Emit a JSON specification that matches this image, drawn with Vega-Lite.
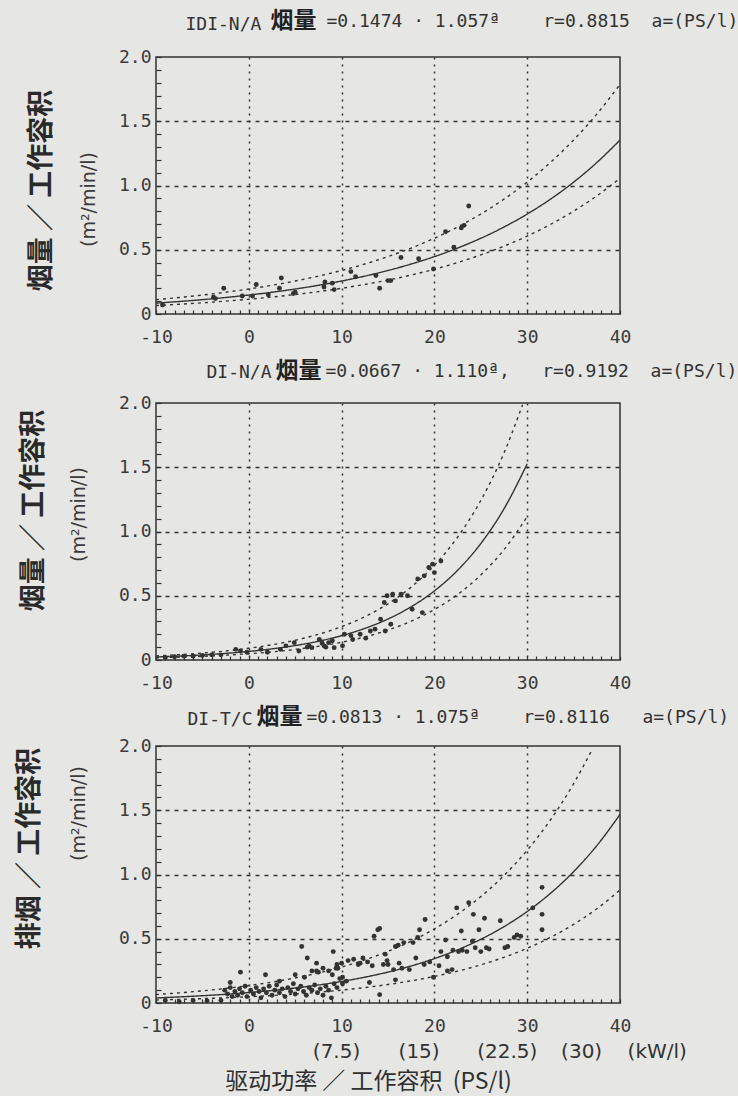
{
  "$schema": "https://vega.github.io/schema/vega-lite/v6.json",
  "background": "#e6e6e4",
  "padding": {"left": 14, "top": 8, "right": 0, "bottom": 2},
  "spacing": 11,
  "config": {
    "view": {"stroke": "#333333", "strokeWidth": 1.5},
    "font": "DejaVu Sans Mono",
    "axis": {"labelFont": "DejaVu Sans Mono", "labelFontSize": 18, "labelColor": "#3a3a3a", "tickColor": "#333333", "domain": false, "labelFlush": false, "labelOverlap": false}
  },
  "datasets": {
    "p1": [
      {"a": -9.3, "v": 0.07}, {"a": -3.8, "v": 0.13}, {"a": -3.6, "v": 0.12}, {"a": -2.7, "v": 0.2}, {"a": -0.7, "v": 0.14},
      {"a": 0.4, "v": 0.14}, {"a": 0.8, "v": 0.23}, {"a": 2.1, "v": 0.15}, {"a": 3.3, "v": 0.2}, {"a": 3.5, "v": 0.28},
      {"a": 4.8, "v": 0.16}, {"a": 5.0, "v": 0.17}, {"a": 8.1, "v": 0.21}, {"a": 8.2, "v": 0.25}, {"a": 9.0, "v": 0.24},
      {"a": 9.2, "v": 0.19}, {"a": 11.0, "v": 0.33}, {"a": 11.5, "v": 0.29}, {"a": 13.7, "v": 0.3}, {"a": 14.1, "v": 0.2},
      {"a": 15.0, "v": 0.26}, {"a": 15.3, "v": 0.26}, {"a": 16.4, "v": 0.44}, {"a": 18.3, "v": 0.43}, {"a": 19.9, "v": 0.35},
      {"a": 21.2, "v": 0.64}, {"a": 22.1, "v": 0.52}, {"a": 22.9, "v": 0.67}, {"a": 23.2, "v": 0.69}, {"a": 23.7, "v": 0.84}
    ],
    "c1": [
      {"a": -10, "v": 0.0847, "k": "fit"}, {"a": -7.5, "v": 0.0973, "k": "fit"}, {"a": -5, "v": 0.1117, "k": "fit"}, {"a": -2.5, "v": 0.1283, "k": "fit"},
      {"a": 0, "v": 0.1474, "k": "fit"}, {"a": 2.5, "v": 0.1693, "k": "fit"}, {"a": 5, "v": 0.1945, "k": "fit"}, {"a": 7.5, "v": 0.2234, "k": "fit"},
      {"a": 10, "v": 0.2566, "k": "fit"}, {"a": 12.5, "v": 0.2947, "k": "fit"}, {"a": 15, "v": 0.3386, "k": "fit"}, {"a": 17.5, "v": 0.3889, "k": "fit"},
      {"a": 20, "v": 0.4467, "k": "fit"}, {"a": 22.5, "v": 0.5131, "k": "fit"}, {"a": 25, "v": 0.5894, "k": "fit"}, {"a": 27.5, "v": 0.677, "k": "fit"},
      {"a": 30, "v": 0.7776, "k": "fit"}, {"a": 32.5, "v": 0.8932, "k": "fit"}, {"a": 35, "v": 1.0259, "k": "fit"}, {"a": 37.5, "v": 1.1785, "k": "fit"},
      {"a": 40, "v": 1.3536, "k": "fit"},
      {"a": -10, "v": 0.1118, "k": "upper"}, {"a": -7.5, "v": 0.1284, "k": "upper"}, {"a": -5, "v": 0.1474, "k": "upper"}, {"a": -2.5, "v": 0.1694, "k": "upper"},
      {"a": 0, "v": 0.1946, "k": "upper"}, {"a": 2.5, "v": 0.2235, "k": "upper"}, {"a": 5, "v": 0.2567, "k": "upper"}, {"a": 7.5, "v": 0.2949, "k": "upper"},
      {"a": 10, "v": 0.3387, "k": "upper"}, {"a": 12.5, "v": 0.389, "k": "upper"}, {"a": 15, "v": 0.447, "k": "upper"}, {"a": 17.5, "v": 0.5133, "k": "upper"},
      {"a": 20, "v": 0.5896, "k": "upper"}, {"a": 22.5, "v": 0.6773, "k": "upper"}, {"a": 25, "v": 0.778, "k": "upper"}, {"a": 27.5, "v": 0.8936, "k": "upper"},
      {"a": 30, "v": 1.0264, "k": "upper"}, {"a": 32.5, "v": 1.179, "k": "upper"}, {"a": 35, "v": 1.3542, "k": "upper"}, {"a": 37.5, "v": 1.5556, "k": "upper"},
      {"a": 40, "v": 1.7868, "k": "upper"},
      {"a": -10, "v": 0.0661, "k": "lower"}, {"a": -7.5, "v": 0.0759, "k": "lower"}, {"a": -5, "v": 0.0871, "k": "lower"}, {"a": -2.5, "v": 0.1001, "k": "lower"},
      {"a": 0, "v": 0.115, "k": "lower"}, {"a": 2.5, "v": 0.1321, "k": "lower"}, {"a": 5, "v": 0.1517, "k": "lower"}, {"a": 7.5, "v": 0.1743, "k": "lower"},
      {"a": 10, "v": 0.2001, "k": "lower"}, {"a": 12.5, "v": 0.2299, "k": "lower"}, {"a": 15, "v": 0.2641, "k": "lower"}, {"a": 17.5, "v": 0.3033, "k": "lower"},
      {"a": 20, "v": 0.3484, "k": "lower"}, {"a": 22.5, "v": 0.4002, "k": "lower"}, {"a": 25, "v": 0.4597, "k": "lower"}, {"a": 27.5, "v": 0.5281, "k": "lower"},
      {"a": 30, "v": 0.6065, "k": "lower"}, {"a": 32.5, "v": 0.6967, "k": "lower"}, {"a": 35, "v": 0.8002, "k": "lower"}, {"a": 37.5, "v": 0.9192, "k": "lower"},
      {"a": 40, "v": 1.0558, "k": "lower"}
    ],
    "p2": [
      {"a": -9, "v": 0.02}, {"a": -8, "v": 0.025}, {"a": -7, "v": 0.03}, {"a": -6, "v": 0.03}, {"a": -5, "v": 0.035}, {"a": -4, "v": 0.04}, {"a": -3, "v": 0.04},
      {"a": -1.4, "v": 0.083}, {"a": -0.9, "v": 0.07}, {"a": -0.2, "v": 0.06}, {"a": 1.3, "v": 0.083}, {"a": 2.0, "v": 0.06}, {"a": 3.4, "v": 0.083},
      {"a": 4.0, "v": 0.11}, {"a": 4.9, "v": 0.135}, {"a": 5.4, "v": 0.07}, {"a": 6.3, "v": 0.1}, {"a": 6.5, "v": 0.11}, {"a": 6.8, "v": 0.096},
      {"a": 7.6, "v": 0.16}, {"a": 7.9, "v": 0.13}, {"a": 8.1, "v": 0.11}, {"a": 8.3, "v": 0.1}, {"a": 8.6, "v": 0.135}, {"a": 9.0, "v": 0.15},
      {"a": 9.2, "v": 0.096}, {"a": 10.1, "v": 0.11}, {"a": 10.3, "v": 0.2}, {"a": 11.0, "v": 0.19}, {"a": 11.2, "v": 0.16}, {"a": 12.0, "v": 0.2},
      {"a": 12.6, "v": 0.17}, {"a": 13.1, "v": 0.226}, {"a": 13.6, "v": 0.24}, {"a": 14.2, "v": 0.317}, {"a": 14.7, "v": 0.226}, {"a": 15.3, "v": 0.278},
      {"a": 14.6, "v": 0.447}, {"a": 14.9, "v": 0.5}, {"a": 15.5, "v": 0.512}, {"a": 15.8, "v": 0.46}, {"a": 16.4, "v": 0.512}, {"a": 17.1, "v": 0.5},
      {"a": 17.6, "v": 0.395}, {"a": 18.7, "v": 0.369}, {"a": 18.2, "v": 0.63}, {"a": 18.9, "v": 0.655}, {"a": 19.4, "v": 0.72}, {"a": 20.0, "v": 0.68},
      {"a": 19.8, "v": 0.746}, {"a": 20.7, "v": 0.77}
    ],
    "c2": [
      {"a": -10, "v": 0.0235, "k": "fit"}, {"a": -7.5, "v": 0.0305, "k": "fit"}, {"a": -5, "v": 0.0396, "k": "fit"}, {"a": -2.5, "v": 0.0514, "k": "fit"},
      {"a": 0, "v": 0.0667, "k": "fit"}, {"a": 2.5, "v": 0.0866, "k": "fit"}, {"a": 5, "v": 0.1124, "k": "fit"}, {"a": 7.5, "v": 0.1459, "k": "fit"},
      {"a": 10, "v": 0.1894, "k": "fit"}, {"a": 12.5, "v": 0.2458, "k": "fit"}, {"a": 15, "v": 0.3191, "k": "fit"}, {"a": 17.5, "v": 0.4143, "k": "fit"},
      {"a": 20, "v": 0.5378, "k": "fit"}, {"a": 22.5, "v": 0.6981, "k": "fit"}, {"a": 25, "v": 0.9062, "k": "fit"}, {"a": 27.5, "v": 1.1763, "k": "fit"},
      {"a": 30, "v": 1.5269, "k": "fit"},
      {"a": -10, "v": 0.0322, "k": "upper"}, {"a": -7.5, "v": 0.0418, "k": "upper"}, {"a": -5, "v": 0.0543, "k": "upper"}, {"a": -2.5, "v": 0.0704, "k": "upper"},
      {"a": 0, "v": 0.0914, "k": "upper"}, {"a": 2.5, "v": 0.1186, "k": "upper"}, {"a": 5, "v": 0.154, "k": "upper"}, {"a": 7.5, "v": 0.1999, "k": "upper"},
      {"a": 10, "v": 0.2595, "k": "upper"}, {"a": 12.5, "v": 0.3367, "k": "upper"}, {"a": 15, "v": 0.4372, "k": "upper"}, {"a": 17.5, "v": 0.5676, "k": "upper"},
      {"a": 20, "v": 0.7368, "k": "upper"}, {"a": 22.5, "v": 0.9564, "k": "upper"}, {"a": 25, "v": 1.2415, "k": "upper"}, {"a": 27.5, "v": 1.6115, "k": "upper"},
      {"a": 29.5, "v": 1.986, "k": "upper"},
      {"a": -10, "v": 0.0172, "k": "lower"}, {"a": -7.5, "v": 0.0223, "k": "lower"}, {"a": -5, "v": 0.0289, "k": "lower"}, {"a": -2.5, "v": 0.0375, "k": "lower"},
      {"a": 0, "v": 0.0487, "k": "lower"}, {"a": 2.5, "v": 0.0632, "k": "lower"}, {"a": 5, "v": 0.0821, "k": "lower"}, {"a": 7.5, "v": 0.1065, "k": "lower"},
      {"a": 10, "v": 0.1383, "k": "lower"}, {"a": 12.5, "v": 0.1794, "k": "lower"}, {"a": 15, "v": 0.2329, "k": "lower"}, {"a": 17.5, "v": 0.3024, "k": "lower"},
      {"a": 20, "v": 0.3926, "k": "lower"}, {"a": 22.5, "v": 0.5096, "k": "lower"}, {"a": 25, "v": 0.6615, "k": "lower"}, {"a": 27.5, "v": 0.8587, "k": "lower"},
      {"a": 30, "v": 1.1146, "k": "lower"}
    ],
    "p3": [
      {"a": -9, "v": 0.02}, {"a": -7.5, "v": 0.01}, {"a": -6, "v": 0.02}, {"a": -4.5, "v": 0.015}, {"a": -3, "v": 0.02},
      {"a": -2.6, "v": 0.1}, {"a": -2.3, "v": 0.07}, {"a": -2.0, "v": 0.12}, {"a": -1.8, "v": 0.05}, {"a": -1.5, "v": 0.09}, {"a": -1.2, "v": 0.06},
      {"a": -1.0, "v": 0.11}, {"a": -0.7, "v": 0.08}, {"a": -0.4, "v": 0.13}, {"a": -0.2, "v": 0.05}, {"a": 0.2, "v": 0.1}, {"a": 0.5, "v": 0.07},
      {"a": 0.8, "v": 0.12}, {"a": 1.1, "v": 0.09}, {"a": 1.3, "v": 0.04}, {"a": 1.6, "v": 0.11}, {"a": 1.9, "v": 0.08}, {"a": 2.2, "v": 0.13},
      {"a": 2.5, "v": 0.06}, {"a": 2.8, "v": 0.1}, {"a": 3.0, "v": 0.14}, {"a": 3.3, "v": 0.08}, {"a": 3.6, "v": 0.11}, {"a": 3.9, "v": 0.05},
      {"a": 4.2, "v": 0.12}, {"a": 4.5, "v": 0.09}, {"a": 4.8, "v": 0.15}, {"a": 5.0, "v": 0.07}, {"a": 5.3, "v": 0.11}, {"a": 5.6, "v": 0.13},
      {"a": 5.9, "v": 0.09}, {"a": 6.2, "v": 0.06}, {"a": 6.5, "v": 0.12}, {"a": 6.8, "v": 0.1}, {"a": 7.1, "v": 0.14}, {"a": 7.4, "v": 0.08},
      {"a": 7.7, "v": 0.11}, {"a": 8.0, "v": 0.06}, {"a": 8.3, "v": 0.13}, {"a": 8.6, "v": 0.1}, {"a": 8.9, "v": 0.04}, {"a": 9.2, "v": 0.15},
      {"a": 9.5, "v": 0.12}, {"a": 9.8, "v": 0.19}, {"a": 10.1, "v": 0.2}, {"a": 10.5, "v": 0.17},
      {"a": 5.0, "v": 0.22}, {"a": 6.0, "v": 0.2}, {"a": 6.8, "v": 0.25}, {"a": 7.5, "v": 0.24}, {"a": 8.0, "v": 0.27}, {"a": 8.6, "v": 0.25},
      {"a": 9.0, "v": 0.22}, {"a": 9.5, "v": 0.3},
      {"a": -2.0, "v": 0.16}, {"a": -0.9, "v": 0.24}, {"a": 1.8, "v": 0.22}, {"a": 3.3, "v": 0.17}, {"a": 5.7, "v": 0.44}, {"a": 6.3, "v": 0.35},
      {"a": 7.3, "v": 0.31}, {"a": 9.1, "v": 0.4}, {"a": 7.3, "v": 0.25}, {"a": 9.6, "v": 0.27},
      {"a": 9.4, "v": 0.27}, {"a": 10.0, "v": 0.31}, {"a": 10.1, "v": 0.15}, {"a": 10.7, "v": 0.33}, {"a": 11.3, "v": 0.34}, {"a": 11.8, "v": 0.3},
      {"a": 12.0, "v": 0.31}, {"a": 12.3, "v": 0.35}, {"a": 12.8, "v": 0.32}, {"a": 13.0, "v": 0.16}, {"a": 13.3, "v": 0.29}, {"a": 13.5, "v": 0.52},
      {"a": 13.9, "v": 0.57}, {"a": 14.1, "v": 0.065}, {"a": 14.1, "v": 0.58}, {"a": 14.5, "v": 0.3}, {"a": 14.7, "v": 0.38}, {"a": 14.9, "v": 0.33},
      {"a": 15.0, "v": 0.3}, {"a": 15.6, "v": 0.26}, {"a": 15.8, "v": 0.44}, {"a": 15.8, "v": 0.18}, {"a": 16.1, "v": 0.45}, {"a": 16.2, "v": 0.31},
      {"a": 16.5, "v": 0.27}, {"a": 16.7, "v": 0.47}, {"a": 17.3, "v": 0.26}, {"a": 17.7, "v": 0.47}, {"a": 18.0, "v": 0.35}, {"a": 18.2, "v": 0.51},
      {"a": 18.4, "v": 0.57}, {"a": 18.9, "v": 0.3}, {"a": 19.0, "v": 0.65}, {"a": 19.5, "v": 0.32}, {"a": 19.9, "v": 0.2}, {"a": 20.5, "v": 0.29},
      {"a": 20.7, "v": 0.4}, {"a": 21.2, "v": 0.49}, {"a": 21.4, "v": 0.25}, {"a": 21.4, "v": 0.36}, {"a": 21.9, "v": 0.26}, {"a": 22.0, "v": 0.41},
      {"a": 22.4, "v": 0.74}, {"a": 22.6, "v": 0.4}, {"a": 22.9, "v": 0.56}, {"a": 23.0, "v": 0.41}, {"a": 23.5, "v": 0.4}, {"a": 23.7, "v": 0.78},
      {"a": 24.1, "v": 0.48}, {"a": 24.2, "v": 0.69}, {"a": 24.4, "v": 0.43}, {"a": 24.8, "v": 0.57}, {"a": 25.0, "v": 0.4}, {"a": 25.4, "v": 0.66},
      {"a": 25.6, "v": 0.43}, {"a": 25.9, "v": 0.42}, {"a": 27.1, "v": 0.64}, {"a": 27.6, "v": 0.43}, {"a": 27.9, "v": 0.44}, {"a": 28.6, "v": 0.51},
      {"a": 28.9, "v": 0.53}, {"a": 29.3, "v": 0.52}, {"a": 30.6, "v": 0.74}, {"a": 31.6, "v": 0.9}, {"a": 31.6, "v": 0.69}, {"a": 31.6, "v": 0.57}
    ],
    "c3": [
      {"a": -10, "v": 0.0394, "k": "fit"}, {"a": -7.5, "v": 0.0473, "k": "fit"}, {"a": -5, "v": 0.0566, "k": "fit"}, {"a": -2.5, "v": 0.0679, "k": "fit"},
      {"a": 0, "v": 0.0813, "k": "fit"}, {"a": 2.5, "v": 0.0974, "k": "fit"}, {"a": 5, "v": 0.1167, "k": "fit"}, {"a": 7.5, "v": 0.1399, "k": "fit"},
      {"a": 10, "v": 0.1676, "k": "fit"}, {"a": 12.5, "v": 0.2008, "k": "fit"}, {"a": 15, "v": 0.2406, "k": "fit"}, {"a": 17.5, "v": 0.2882, "k": "fit"},
      {"a": 20, "v": 0.3454, "k": "fit"}, {"a": 22.5, "v": 0.4138, "k": "fit"}, {"a": 25, "v": 0.4958, "k": "fit"}, {"a": 27.5, "v": 0.5941, "k": "fit"},
      {"a": 30, "v": 0.7118, "k": "fit"}, {"a": 32.5, "v": 0.8529, "k": "fit"}, {"a": 35, "v": 1.022, "k": "fit"}, {"a": 37.5, "v": 1.2245, "k": "fit"},
      {"a": 40, "v": 1.4672, "k": "fit"},
      {"a": -10, "v": 0.0658, "k": "upper"}, {"a": -7.5, "v": 0.079, "k": "upper"}, {"a": -5, "v": 0.0945, "k": "upper"}, {"a": -2.5, "v": 0.1134, "k": "upper"},
      {"a": 0, "v": 0.1358, "k": "upper"}, {"a": 2.5, "v": 0.1627, "k": "upper"}, {"a": 5, "v": 0.1949, "k": "upper"}, {"a": 7.5, "v": 0.2336, "k": "upper"},
      {"a": 10, "v": 0.2799, "k": "upper"}, {"a": 12.5, "v": 0.3353, "k": "upper"}, {"a": 15, "v": 0.4018, "k": "upper"}, {"a": 17.5, "v": 0.4813, "k": "upper"},
      {"a": 20, "v": 0.5768, "k": "upper"}, {"a": 22.5, "v": 0.691, "k": "upper"}, {"a": 25, "v": 0.828, "k": "upper"}, {"a": 27.5, "v": 0.9921, "k": "upper"},
      {"a": 30, "v": 1.1887, "k": "upper"}, {"a": 32.5, "v": 1.4243, "k": "upper"}, {"a": 35, "v": 1.7067, "k": "upper"}, {"a": 37, "v": 1.972, "k": "upper"},
      {"a": -10, "v": 0.0236, "k": "lower"}, {"a": -7.5, "v": 0.0283, "k": "lower"}, {"a": -5, "v": 0.0339, "k": "lower"}, {"a": -2.5, "v": 0.0407, "k": "lower"},
      {"a": 0, "v": 0.0487, "k": "lower"}, {"a": 2.5, "v": 0.0583, "k": "lower"}, {"a": 5, "v": 0.0699, "k": "lower"}, {"a": 7.5, "v": 0.0838, "k": "lower"},
      {"a": 10, "v": 0.1004, "k": "lower"}, {"a": 12.5, "v": 0.1202, "k": "lower"}, {"a": 15, "v": 0.1441, "k": "lower"}, {"a": 17.5, "v": 0.1726, "k": "lower"},
      {"a": 20, "v": 0.2068, "k": "lower"}, {"a": 22.5, "v": 0.2478, "k": "lower"}, {"a": 25, "v": 0.2969, "k": "lower"}, {"a": 27.5, "v": 0.3557, "k": "lower"},
      {"a": 30, "v": 0.4262, "k": "lower"}, {"a": 32.5, "v": 0.5107, "k": "lower"}, {"a": 35, "v": 0.612, "k": "lower"}, {"a": 37.5, "v": 0.7332, "k": "lower"},
      {"a": 40, "v": 0.8786, "k": "lower"}
    ]
  },
  "vconcat": [
    {
      "width": 464, "height": 257,
      "resolve": {"axis": {"x": "independent", "y": "independent"}},
      "layer": [
        {
          "data": {"name": "p1"},
          "mark": {"type": "circle", "size": 24, "color": "#333333", "opacity": 1},
          "encoding": {
            "x": {"field": "a", "type": "quantitative", "scale": {"domain": [-10, 40], "nice": false, "zero": false},
              "axis": {"values": [-10,-9,-8,-7,-6,-5,-4,-3,-2,-1,0,1,2,3,4,5,6,7,8,9,10,11,12,13,14,15,16,17,18,19,20,21,22,23,24,25,26,27,28,29,30,31,32,33,34,35,36,37,38,39,40],
                "labelExpr": "datum.value % 10 === 0 ? '' + datum.value : ''", "title": null, "tickSize": -4, "tickWidth": 1.2, "labelPadding": 18,
                "grid": true, "gridColor": "#333333", "gridWidth": 1.5, "gridDash": [2, 5],
                "gridOpacity": {"condition": {"test": "datum.value % 10 === 0 && datum.value > -10 && datum.value < 40", "value": 1}, "value": 0}}},
            "y": {"field": "v", "type": "quantitative", "scale": {"domain": [0, 2], "nice": false},
              "axis": {"values": [0,0.1,0.2,0.3,0.4,0.5,0.6,0.7,0.8,0.9,1,1.1,1.2,1.3,1.4,1.5,1.6,1.7,1.8,1.9,2],
                "labelExpr": "datum.value == 0 ? '0' : (abs(datum.value * 2 - round(datum.value * 2)) < 0.001 ? format(datum.value, '.1f') : '')",
                "tickSize": -5, "tickWidth": 1.2, "labelPadding": 10,
                "grid": true, "gridColor": "#333333", "gridWidth": 1.5, "gridDash": [4, 5],
                "gridOpacity": {"condition": {"test": "datum.value == 0.5 || datum.value == 1 || datum.value == 1.5", "value": 1}, "value": 0},
                "title": "烟量 ／ 工作容积", "titleFont": "Noto Sans CJK SC", "titleFontSize": 27, "titleFontWeight": "bold", "titleColor": "#2a2a2a",
                "titleX": -115, "titleY": 133, "titleAngle": -90, "titleAlign": "center", "titleBaseline": "middle"}}
          }
        },
        {
          "data": {"name": "c1"},
          "mark": {"type": "line", "interpolate": "monotone", "color": "#333333", "strokeWidth": 1.4, "clip": true},
          "encoding": {
            "x": {"field": "a", "type": "quantitative", "axis": null},
            "y": {"field": "v", "type": "quantitative",
              "axis": {"orient": "left", "labels": false, "ticks": false, "domain": false, "grid": false,
                "title": "(m²/min/l)", "titleFont": "DejaVu Sans", "titleFontSize": 19, "titleFontWeight": "normal", "titleColor": "#3a3a3a",
                "titleX": -68, "titleY": 142, "titleAngle": -90, "titleAlign": "center", "titleBaseline": "middle"}},
            "detail": {"field": "k", "type": "nominal"},
            "strokeDash": {"field": "k", "type": "nominal", "scale": {"domain": ["fit", "upper", "lower"], "range": [[1, 0], [3, 4], [3, 4]]}, "legend": null}
          }
        },
        {
          "data": {"name": "p1"},
          "mark": {"type": "point", "opacity": 0},
          "encoding": {
            "x": {"field": "a", "type": "quantitative",
              "axis": {"orient": "top", "labels": false, "ticks": false, "domain": false, "grid": false,
                "title": "烟量", "titleFont": "Noto Sans CJK SC", "titleFontSize": 23, "titleFontWeight": "bold", "titleColor": "#222222",
                "titleX": 137, "titleY": -37, "titleAlign": "center", "titleBaseline": "middle"}},
            "y": {"field": "v", "type": "quantitative",
              "axis": {"orient": "left", "labels": false, "ticks": false, "domain": false, "grid": false,
                "title": "IDI-N/A", "titleFont": "DejaVu Sans Mono", "titleFontSize": 18, "titleFontWeight": "normal", "titleColor": "#333333",
                "titleAngle": 0, "titleX": 29, "titleY": -33, "titleAlign": "left", "titleBaseline": "middle"}}
          }
        },
        {
          "data": {"name": "p1"},
          "mark": {"type": "point", "opacity": 0},
          "encoding": {
            "x": {"field": "a", "type": "quantitative",
              "axis": {"orient": "top", "labels": false, "ticks": false, "domain": false, "grid": false,
                "title": "=0.1474 · 1.057ª\u00a0\u00a0\u00a0\u00a0r=0.8815\u00a0\u00a0a=(PS/l)",
                "titleFont": "DejaVu Sans Mono", "titleFontSize": 18, "titleFontWeight": "normal", "titleColor": "#333333",
                "titleX": 170, "titleY": -36, "titleAlign": "left", "titleBaseline": "middle"}},
            "y": {"field": "v", "type": "quantitative", "axis": null}
          }
        }
      ]
    },
    {
      "width": 464, "height": 257,
      "resolve": {"axis": {"x": "independent", "y": "independent"}},
      "layer": [
        {
          "data": {"name": "p2"},
          "mark": {"type": "circle", "size": 24, "color": "#333333", "opacity": 1},
          "encoding": {
            "x": {"field": "a", "type": "quantitative", "scale": {"domain": [-10, 40], "nice": false, "zero": false},
              "axis": {"values": [-10,-9,-8,-7,-6,-5,-4,-3,-2,-1,0,1,2,3,4,5,6,7,8,9,10,11,12,13,14,15,16,17,18,19,20,21,22,23,24,25,26,27,28,29,30,31,32,33,34,35,36,37,38,39,40],
                "labelExpr": "datum.value % 10 === 0 ? '' + datum.value : ''", "title": null, "tickSize": -4, "tickWidth": 1.2, "labelPadding": 18,
                "grid": true, "gridColor": "#333333", "gridWidth": 1.5, "gridDash": [2, 5],
                "gridOpacity": {"condition": {"test": "datum.value % 10 === 0 && datum.value > -10 && datum.value < 40", "value": 1}, "value": 0}}},
            "y": {"field": "v", "type": "quantitative", "scale": {"domain": [0, 2], "nice": false},
              "axis": {"values": [0,0.1,0.2,0.3,0.4,0.5,0.6,0.7,0.8,0.9,1,1.1,1.2,1.3,1.4,1.5,1.6,1.7,1.8,1.9,2],
                "labelExpr": "datum.value == 0 ? '0' : (abs(datum.value * 2 - round(datum.value * 2)) < 0.001 ? format(datum.value, '.1f') : '')",
                "tickSize": -5, "tickWidth": 1.2, "labelPadding": 10,
                "grid": true, "gridColor": "#333333", "gridWidth": 1.5, "gridDash": [4, 5],
                "gridOpacity": {"condition": {"test": "datum.value == 0.5 || datum.value == 1 || datum.value == 1.5", "value": 1}, "value": 0},
                "title": "烟量 ／ 工作容积", "titleFont": "Noto Sans CJK SC", "titleFontSize": 27, "titleFontWeight": "bold", "titleColor": "#2a2a2a",
                "titleX": -123, "titleY": 107, "titleAngle": -90, "titleAlign": "center", "titleBaseline": "middle"}}
          }
        },
        {
          "data": {"name": "c2"},
          "mark": {"type": "line", "interpolate": "monotone", "color": "#333333", "strokeWidth": 1.4, "clip": true},
          "encoding": {
            "x": {"field": "a", "type": "quantitative", "axis": null},
            "y": {"field": "v", "type": "quantitative",
              "axis": {"orient": "left", "labels": false, "ticks": false, "domain": false, "grid": false,
                "title": "(m²/min/l)", "titleFont": "DejaVu Sans", "titleFontSize": 19, "titleFontWeight": "normal", "titleColor": "#3a3a3a",
                "titleX": -78, "titleY": 111, "titleAngle": -90, "titleAlign": "center", "titleBaseline": "middle"}},
            "detail": {"field": "k", "type": "nominal"},
            "strokeDash": {"field": "k", "type": "nominal", "scale": {"domain": ["fit", "upper", "lower"], "range": [[1, 0], [3, 4], [3, 4]]}, "legend": null}
          }
        },
        {
          "data": {"name": "p2"},
          "mark": {"type": "point", "opacity": 0},
          "encoding": {
            "x": {"field": "a", "type": "quantitative",
              "axis": {"orient": "top", "labels": false, "ticks": false, "domain": false, "grid": false,
                "title": "烟量", "titleFont": "Noto Sans CJK SC", "titleFontSize": 23, "titleFontWeight": "bold", "titleColor": "#222222",
                "titleX": 142, "titleY": -33, "titleAlign": "center", "titleBaseline": "middle"}},
            "y": {"field": "v", "type": "quantitative",
              "axis": {"orient": "left", "labels": false, "ticks": false, "domain": false, "grid": false,
                "title": "DI-N/A", "titleFont": "DejaVu Sans Mono", "titleFontSize": 18, "titleFontWeight": "normal", "titleColor": "#333333",
                "titleAngle": 0, "titleX": 50, "titleY": -31, "titleAlign": "left", "titleBaseline": "middle"}}
          }
        },
        {
          "data": {"name": "p2"},
          "mark": {"type": "point", "opacity": 0},
          "encoding": {
            "x": {"field": "a", "type": "quantitative",
              "axis": {"orient": "top", "labels": false, "ticks": false, "domain": false, "grid": false,
                "title": "=0.0667 · 1.110ª,\u00a0\u00a0\u00a0r=0.9192\u00a0\u00a0a=(PS/l)",
                "titleFont": "DejaVu Sans Mono", "titleFontSize": 18, "titleFontWeight": "normal", "titleColor": "#333333",
                "titleX": 169, "titleY": -32, "titleAlign": "left", "titleBaseline": "middle"}},
            "y": {"field": "v", "type": "quantitative", "axis": null}
          }
        }
      ]
    },
    {
      "width": 464, "height": 257,
      "resolve": {"axis": {"x": "independent", "y": "independent"}},
      "layer": [
        {
          "data": {"name": "p3"},
          "mark": {"type": "circle", "size": 24, "color": "#333333", "opacity": 1},
          "encoding": {
            "x": {"field": "a", "type": "quantitative", "scale": {"domain": [-10, 40], "nice": false, "zero": false},
              "axis": {"values": [-10,-9,-8,-7,-6,-5,-4,-3,-2,-1,0,1,2,3,4,5,6,7,8,9,10,11,12,13,14,15,16,17,18,19,20,21,22,23,24,25,26,27,28,29,30,31,32,33,34,35,36,37,38,39,40],
                "labelExpr": "datum.value % 10 === 0 ? '' + datum.value : ''", "title": null, "tickSize": -4, "tickWidth": 1.2, "labelPadding": 18,
                "grid": true, "gridColor": "#333333", "gridWidth": 1.5, "gridDash": [2, 5],
                "gridOpacity": {"condition": {"test": "datum.value % 10 === 0 && datum.value > -10 && datum.value < 40", "value": 1}, "value": 0}}},
            "y": {"field": "v", "type": "quantitative", "scale": {"domain": [0, 2], "nice": false},
              "axis": {"values": [0,0.1,0.2,0.3,0.4,0.5,0.6,0.7,0.8,0.9,1,1.1,1.2,1.3,1.4,1.5,1.6,1.7,1.8,1.9,2],
                "labelExpr": "datum.value == 0 ? '0' : (abs(datum.value * 2 - round(datum.value * 2)) < 0.001 ? format(datum.value, '.1f') : '')",
                "tickSize": -5, "tickWidth": 1.2, "labelPadding": 10,
                "grid": true, "gridColor": "#333333", "gridWidth": 1.5, "gridDash": [4, 5],
                "gridOpacity": {"condition": {"test": "datum.value == 0.5 || datum.value == 1 || datum.value == 1.5", "value": 1}, "value": 0},
                "title": "排烟 ／ 工作容积", "titleFont": "Noto Sans CJK SC", "titleFontSize": 27, "titleFontWeight": "bold", "titleColor": "#2a2a2a",
                "titleX": -127, "titleY": 102, "titleAngle": -90, "titleAlign": "center", "titleBaseline": "middle"}}
          }
        },
        {
          "data": {"name": "c3"},
          "mark": {"type": "line", "interpolate": "monotone", "color": "#333333", "strokeWidth": 1.4, "clip": true},
          "encoding": {
            "x": {"field": "a", "type": "quantitative",
              "axis": {"orient": "bottom", "values": [9.4, 18.3, 27.8, 33.6],
                "labelExpr": "datum.value < 12 ? '(7.5)' : datum.value < 22 ? '(15)' : datum.value < 32 ? '(22.5)' : '(30)\u00a0\u00a0\u00a0\u00a0(kW/l)'",
                "labelAlign": {"condition": {"test": "datum.value > 32", "value": "left"}, "value": "center"},
                "labelFont": "DejaVu Sans", "labelFontSize": 20, "labelColor": "#333333", "ticks": false, "domain": false, "grid": false, "labelPadding": 38,
                "title": "驱动功率 ／ 工作容积\u00a0\u00a0(PS/l)", "titleFont": "Noto Sans CJK SC", "titleFontSize": 23, "titleFontWeight": "normal", "titleColor": "#2f2f2f",
                "titleX": 212, "titleY": 78, "titleAlign": "center", "titleBaseline": "middle"}},
            "y": {"field": "v", "type": "quantitative",
              "axis": {"orient": "left", "labels": false, "ticks": false, "domain": false, "grid": false,
                "title": "(m²/min/l)", "titleFont": "DejaVu Sans", "titleFontSize": 19, "titleFontWeight": "normal", "titleColor": "#3a3a3a",
                "titleX": -78, "titleY": 67, "titleAngle": -90, "titleAlign": "center", "titleBaseline": "middle"}},
            "detail": {"field": "k", "type": "nominal"},
            "strokeDash": {"field": "k", "type": "nominal", "scale": {"domain": ["fit", "upper", "lower"], "range": [[1, 0], [3, 4], [3, 4]]}, "legend": null}
          }
        },
        {
          "data": {"name": "p3"},
          "mark": {"type": "point", "opacity": 0},
          "encoding": {
            "x": {"field": "a", "type": "quantitative",
              "axis": {"orient": "top", "labels": false, "ticks": false, "domain": false, "grid": false,
                "title": "烟量", "titleFont": "Noto Sans CJK SC", "titleFontSize": 23, "titleFontWeight": "bold", "titleColor": "#222222",
                "titleX": 123, "titleY": -30, "titleAlign": "center", "titleBaseline": "middle"}},
            "y": {"field": "v", "type": "quantitative",
              "axis": {"orient": "left", "labels": false, "ticks": false, "domain": false, "grid": false,
                "title": "DI-T/C", "titleFont": "DejaVu Sans Mono", "titleFontSize": 18, "titleFontWeight": "normal", "titleColor": "#333333",
                "titleAngle": 0, "titleX": 31, "titleY": -27, "titleAlign": "left", "titleBaseline": "middle"}}
          }
        },
        {
          "data": {"name": "p3"},
          "mark": {"type": "point", "opacity": 0},
          "encoding": {
            "x": {"field": "a", "type": "quantitative",
              "axis": {"orient": "top", "labels": false, "ticks": false, "domain": false, "grid": false,
                "title": "=0.0813 · 1.075ª\u00a0\u00a0\u00a0\u00a0r=0.8116\u00a0\u00a0\u00a0a=(PS/l)",
                "titleFont": "DejaVu Sans Mono", "titleFontSize": 18, "titleFontWeight": "normal", "titleColor": "#333333",
                "titleX": 150, "titleY": -29, "titleAlign": "left", "titleBaseline": "middle"}},
            "y": {"field": "v", "type": "quantitative", "axis": null}
          }
        }
      ]
    }
  ]
}
